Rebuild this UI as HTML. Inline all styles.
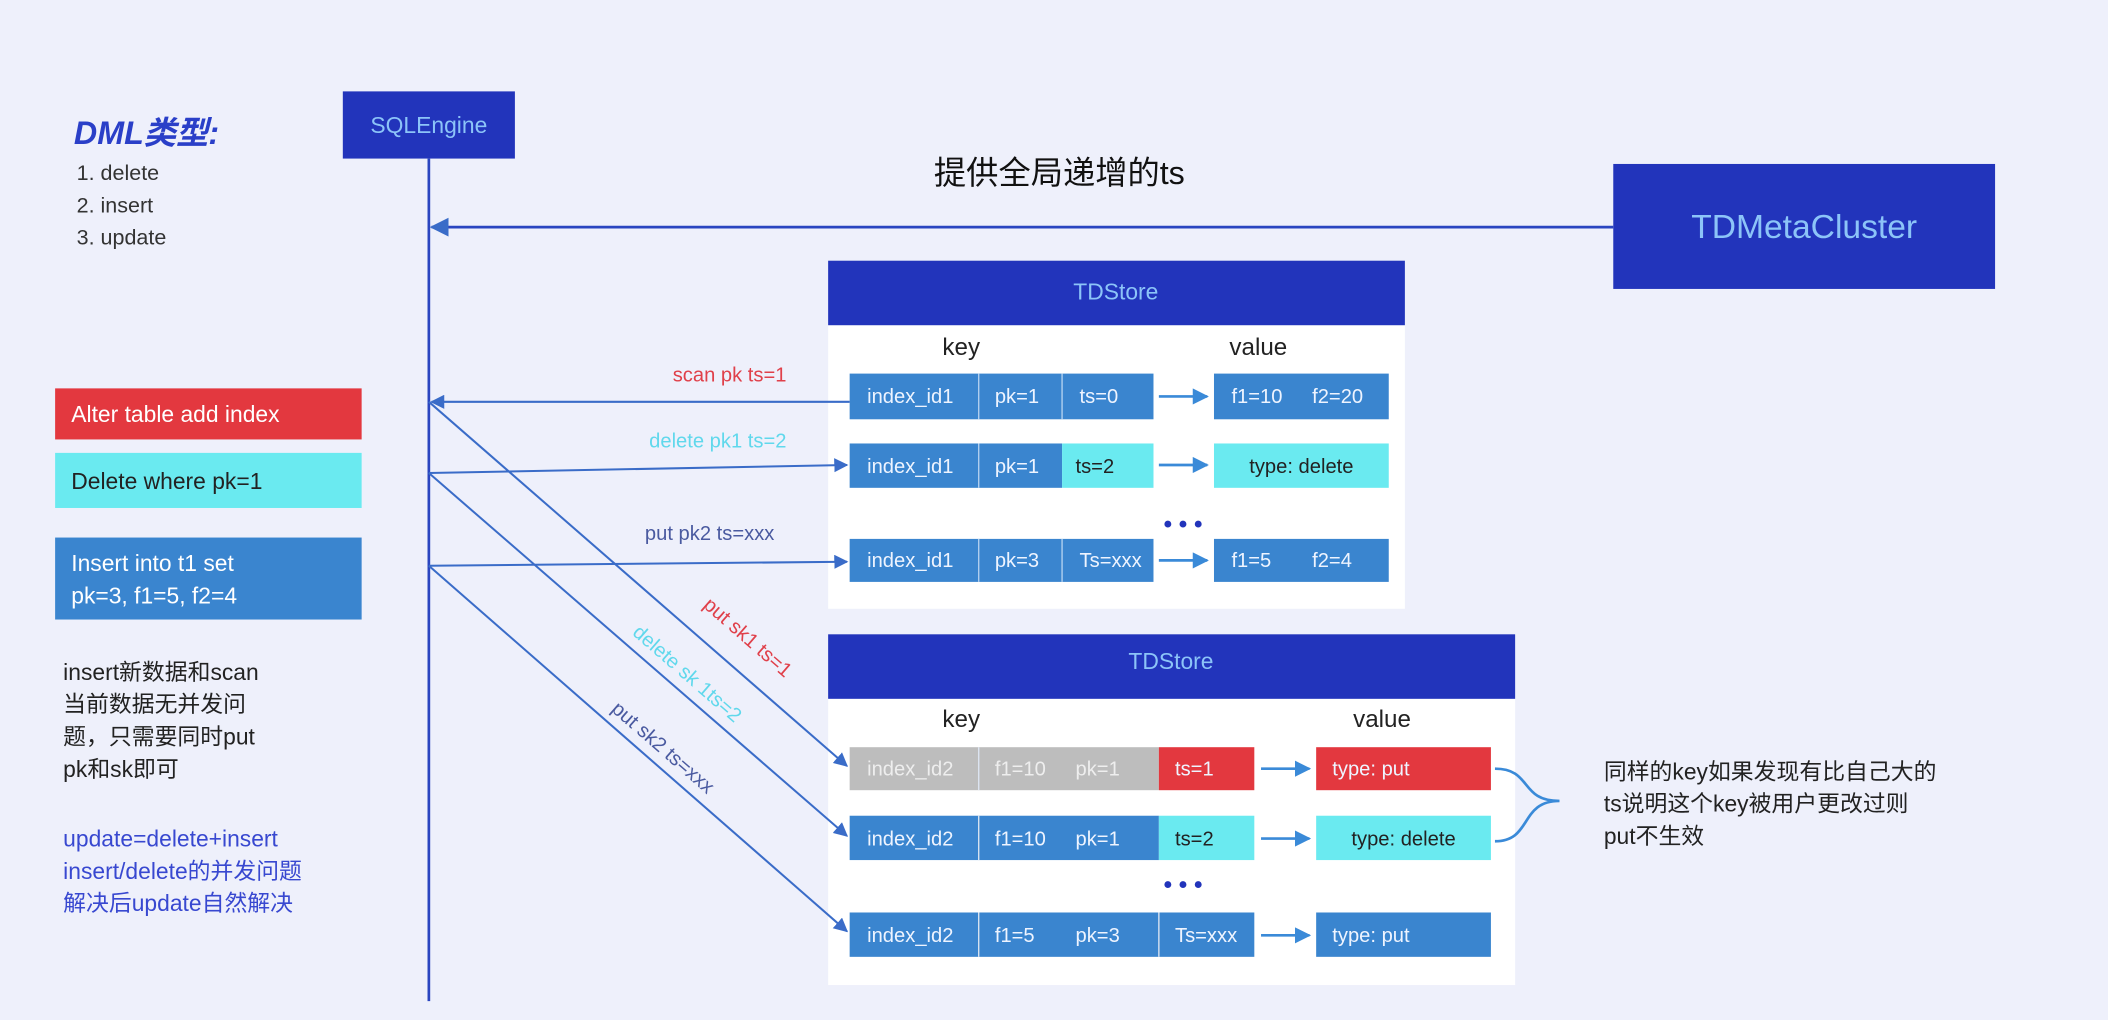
<!DOCTYPE html>
<html><head><meta charset="utf-8"><style>
html,body{margin:0;padding:0;background:#eef0fb;}
svg{display:block}
text{font-family:"Liberation Sans","Noto Sans CJK SC",sans-serif;}
</style></head><body>
<svg width="2108" height="1020" viewBox="0 0 1568 759" preserveAspectRatio="none" xmlns="http://www.w3.org/2000/svg">
<defs>
<marker id="a" viewBox="0 0 10 10" refX="9" refY="5" markerWidth="7" markerHeight="7" orient="auto-start-reverse"><path d="M0,0L10,5L0,10z" fill="#3a6cc8"/></marker>
<marker id="b" viewBox="0 0 10 10" refX="9" refY="5" markerWidth="6" markerHeight="6" orient="auto"><path d="M0,0L10,5L0,10z" fill="#3a8ad8"/></marker>
</defs>
<rect width="1568" height="759" fill="#eef0fb"/>
<rect x="255" y="68" width="128" height="50" fill="#2234bb"/>
<text x="319" y="99" font-size="17" fill="#8cc4f8" text-anchor="middle">SQLEngine</text>
<line x1="319" y1="118" x2="319" y2="745" stroke="#2a45c0" stroke-width="2"/>
<text x="55" y="107" font-size="24" font-weight="bold" font-style="italic" fill="#2a3fc8">DML类型:</text>
<text x="57" y="134" font-size="16" fill="#333">1.  delete</text>
<text x="57" y="158" font-size="16" fill="#333">2.  insert</text>
<text x="57" y="182" font-size="16" fill="#333">3.  update</text>
<rect x="1200" y="122" width="284" height="93" fill="#2234bb"/>
<text x="1342" y="177" font-size="25" fill="#8cc4f8" text-anchor="middle">TDMetaCluster</text>
<line x1="1200" y1="169" x2="321" y2="169" stroke="#2a45c0" stroke-width="2" marker-end="url(#a)"/>
<text x="788" y="137" font-size="24" fill="#111" text-anchor="middle">提供全局递增的ts</text>
<rect x="41" y="289" width="228" height="38" fill="#e3383f"/>
<text x="53" y="314" font-size="17" fill="#fff">Alter table add index</text>
<rect x="41" y="337" width="228" height="41" fill="#6aeaf0"/>
<text x="53" y="364" font-size="17" fill="#222">Delete where pk=1</text>
<rect x="41" y="400" width="228" height="61" fill="#3a85cf"/>
<text x="53" y="425" font-size="17" fill="#fff">Insert into t1 set</text>
<text x="53" y="449" font-size="17" fill="#fff">pk=3, f1=5, f2=4</text>
<g font-size="17" fill="#222">
<text x="47" y="506">insert新数据和scan</text>
<text x="47" y="530">当前数据无并发问</text>
<text x="47" y="554">题，只需要同时put</text>
<text x="47" y="578">pk和sk即可</text>
</g>
<g font-size="17" fill="#3848d0">
<text x="47" y="630">update=delete+insert</text>
<text x="47" y="654">insert/delete的并发问题</text>
<text x="47" y="678">解决后update自然解决</text>
</g>
<rect x="616" y="242" width="429" height="211" fill="#fff"/>
<rect x="616" y="194" width="429" height="48" fill="#2234bb"/>
<text x="830" y="223" font-size="17" fill="#8cc4f8" text-anchor="middle">TDStore</text>
<text x="715" y="264" font-size="18" fill="#222" text-anchor="middle">key</text>
<text x="936" y="264" font-size="18" fill="#222" text-anchor="middle">value</text>
<g font-size="15" fill="#eef4ff">
<rect x="632" y="278" width="226" height="34" fill="#3a85cf"/>
<rect x="903" y="278" width="130" height="34" fill="#3a85cf"/>
<text x="645" y="300">index_id1</text><text x="740" y="300">pk=1</text><text x="803" y="300">ts=0</text>
<text x="916" y="300">f1=10</text><text x="976" y="300">f2=20</text>
<rect x="632" y="330" width="158" height="33" fill="#3a85cf"/>
<rect x="790" y="330" width="68" height="33" fill="#6aeaf0"/>
<rect x="903" y="330" width="130" height="33" fill="#6aeaf0"/>
<text x="645" y="352">index_id1</text><text x="740" y="352">pk=1</text><text x="800" y="352" fill="#222">ts=2</text>
<text x="968" y="352" fill="#222" text-anchor="middle">type: delete</text>
<rect x="632" y="401" width="226" height="32" fill="#3a85cf"/>
<rect x="903" y="401" width="130" height="32" fill="#3a85cf"/>
<text x="645" y="422">index_id1</text><text x="740" y="422">pk=3</text><text x="803" y="422">Ts=xxx</text>
<text x="916" y="422">f1=5</text><text x="976" y="422">f2=4</text>
</g>
<g stroke="#b5d2f0" stroke-width="1"><line x1="728" y1="278" x2="728" y2="312"/><line x1="790" y1="278" x2="790" y2="312"/><line x1="728" y1="330" x2="728" y2="363"/><line x1="728" y1="401" x2="728" y2="433"/><line x1="790" y1="401" x2="790" y2="433"/></g>
<g stroke="#3a8ad8" stroke-width="2"><line x1="862" y1="295" x2="898" y2="295" marker-end="url(#b)"/><line x1="862" y1="346" x2="898" y2="346" marker-end="url(#b)"/><line x1="862" y1="417" x2="898" y2="417" marker-end="url(#b)"/></g>
<text x="880" y="396" font-size="18" fill="#2234bb" text-anchor="middle" font-weight="bold">• • •</text>
<rect x="616" y="520" width="511" height="213" fill="#fff"/>
<rect x="616" y="472" width="511" height="48" fill="#2234bb"/>
<text x="871" y="498" font-size="17" fill="#8cc4f8" text-anchor="middle">TDStore</text>
<text x="715" y="541" font-size="18" fill="#222" text-anchor="middle">key</text>
<text x="1028" y="541" font-size="18" fill="#222" text-anchor="middle">value</text>
<g font-size="15" fill="#eef4ff">
<rect x="632" y="556" width="230" height="32" fill="#bdbdbd"/>
<rect x="862" y="556" width="71" height="32" fill="#e3383f"/>
<rect x="979" y="556" width="130" height="32" fill="#e3383f"/>
<text x="645" y="577" fill="#eee">index_id2</text><text x="740" y="577" fill="#eee">f1=10</text><text x="800" y="577" fill="#eee">pk=1</text>
<text x="874" y="577">ts=1</text><text x="991" y="577">type: put</text>
<rect x="632" y="607" width="230" height="33" fill="#3a85cf"/>
<rect x="862" y="607" width="71" height="33" fill="#6aeaf0"/>
<rect x="979" y="607" width="130" height="33" fill="#6aeaf0"/>
<text x="645" y="629">index_id2</text><text x="740" y="629">f1=10</text><text x="800" y="629">pk=1</text>
<text x="874" y="629" fill="#222">ts=2</text><text x="1044" y="629" fill="#222" text-anchor="middle">type: delete</text>
<rect x="632" y="679" width="301" height="33" fill="#3a85cf"/>
<rect x="979" y="679" width="130" height="33" fill="#3a85cf"/>
<text x="645" y="701">index_id2</text><text x="740" y="701">f1=5</text><text x="800" y="701">pk=3</text>
<text x="874" y="701">Ts=xxx</text><text x="991" y="701">type: put</text>
</g>
<g stroke="#dde6f2" stroke-width="1"><line x1="728" y1="556" x2="728" y2="588"/><line x1="728" y1="607" x2="728" y2="640"/><line x1="728" y1="679" x2="728" y2="712"/><line x1="862" y1="679" x2="862" y2="712"/></g>
<g stroke="#3a8ad8" stroke-width="2"><line x1="938" y1="572" x2="974" y2="572" marker-end="url(#b)"/><line x1="938" y1="624" x2="974" y2="624" marker-end="url(#b)"/><line x1="938" y1="696" x2="974" y2="696" marker-end="url(#b)"/></g>
<text x="880" y="664" font-size="18" fill="#2234bb" text-anchor="middle" font-weight="bold">• • •</text>
<path d="M1112,572 C1140,572 1130,596 1160,596 C1130,596 1140,626 1112,626" fill="none" stroke="#3a8ad8" stroke-width="2"/>
<g font-size="17" fill="#222">
<text x="1193" y="580">同样的key如果发现有比自己大的</text>
<text x="1193" y="604">ts说明这个key被用户更改过则</text>
<text x="1193" y="628">put不生效</text>
</g>
<g stroke="#3a6cc8" stroke-width="1.5" fill="none">
<line x1="632" y1="299" x2="321" y2="299" marker-end="url(#a)"/>
<line x1="319" y1="352" x2="630" y2="346" marker-end="url(#a)"/>
<line x1="319" y1="421" x2="630" y2="418" marker-end="url(#a)"/>
<line x1="319" y1="299" x2="630" y2="570" marker-end="url(#a)"/>
<line x1="319" y1="352" x2="630" y2="622" marker-end="url(#a)"/>
<line x1="319" y1="421" x2="630" y2="693" marker-end="url(#a)"/>
</g>
<text x="585" y="284" font-size="15" fill="#e0404a" text-anchor="end">scan pk ts=1</text>
<text x="585" y="333" font-size="15" fill="#60d8ec" text-anchor="end">delete pk1 ts=2</text>
<text x="576" y="402" font-size="15" fill="#4a5aa0" text-anchor="end">put pk2 ts=xxx</text>
<text transform="translate(553,478) rotate(41)" font-size="15" fill="#e0404a" text-anchor="middle">put sk1 ts=1</text>
<text transform="translate(508,505) rotate(41)" font-size="15" fill="#60d8ec" text-anchor="middle">delete sk 1ts=2</text>
<text transform="translate(490,560) rotate(41)" font-size="15" fill="#4a5aa0" text-anchor="middle">put sk2 ts=xxx</text>
</svg>
</body></html>
